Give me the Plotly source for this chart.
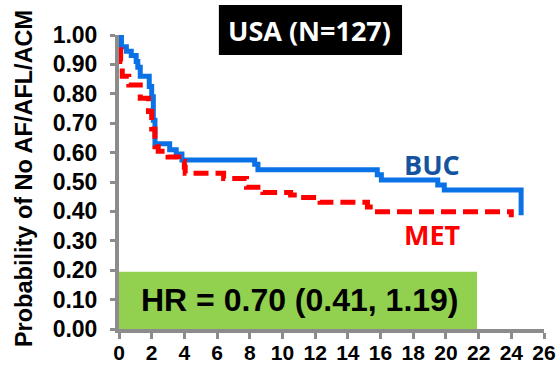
import plotly.graph_objects as go

# Kaplan-Meier step data (time in months, survival probability)
buc_time = [0, 0.15, 0.45, 0.75, 1.05, 1.15, 1.3, 1.85, 2.0, 2.1, 2.2, 3.1, 3.5, 3.85,
            8.3, 8.5, 15.8, 16.05, 19.5, 19.9, 24.6]
buc_surv = [1.00, 0.96, 0.945, 0.93, 0.91, 0.89, 0.86, 0.825, 0.79, 0.71, 0.63, 0.61, 0.595, 0.575,
            0.56, 0.542, 0.525, 0.507, 0.49, 0.473, 0.387]

met_time = [0, 0.1, 0.2, 0.6, 1.3, 1.8, 2.0, 2.2, 2.4, 3.0, 3.65, 4.0, 4.05, 6.4, 7.8,
            8.8, 10.5, 11.1, 12.3, 15.2, 15.65, 24.0]
met_surv = [0.95, 0.91, 0.86, 0.83, 0.785, 0.74, 0.68, 0.62, 0.605, 0.585, 0.57, 0.55, 0.53, 0.512, 0.482,
            0.464, 0.456, 0.447, 0.431, 0.415, 0.399, 0.38]

x_ticks = list(range(0, 27, 2))
y_ticks = [i / 10 for i in range(11)]

title_text = "USA (N=127)"
hr_text = "HR = 0.70 (0.41, 1.19)"
y_title = "Probability of No AF/AFL/ACM"

axis_gray = "#8c8c8c"
x_tick_font = dict(family="Liberation Sans", size=21, color="black", weight="bold")
y_tick_font = dict(family="Liberation Sans", size=23, color="black", weight="bold")

fig = go.Figure()
fig.add_trace(go.Scatter(x=buc_time, y=buc_surv, mode="lines", line_shape="hv",
                         line=dict(color="#0A72E6", width=5), showlegend=False, cliponaxis=False))
fig.add_trace(go.Scatter(x=met_time, y=met_surv, mode="lines", line_shape="hv",
                         line=dict(color="#FF0000", width=5, dash="15px,7px"), showlegend=False,
                         cliponaxis=False))

# HR box
fig.add_shape(type="rect", xref="x", yref="y", x0=0, x1=21.9, y0=0, y1=0.195,
              fillcolor="#92D050", line_width=0, layer="below")
fig.add_annotation(x=11.07, y=0.10, xref="x", yref="y", text=hr_text, showarrow=False,
                   xanchor="center", yanchor="middle",
                   font=dict(family="Liberation Sans", size=32, color="black", weight="bold"))

# Title box
fig.add_shape(type="rect", xref="paper", yref="paper", x0=0.235, x1=0.666, y0=0.932, y1=1.102,
              fillcolor="black", line_width=0, layer="below")
fig.add_annotation(x=0.449, y=1.017, xref="paper", yref="paper", text=title_text, showarrow=False,
                   xanchor="center", yanchor="middle",
                   font=dict(family="Open Sans", size=27, color="white", weight="bold"))

# Series labels
fig.add_annotation(x=19.17, y=0.561, xref="x", yref="y", text="BUC", showarrow=False,
                   xanchor="center", yanchor="middle",
                   font=dict(family="Open Sans", size=27, color="#14539E", weight="bold"))
fig.add_annotation(x=19.2, y=0.32, xref="x", yref="y", text="MET", showarrow=False,
                   xanchor="center", yanchor="middle",
                   font=dict(family="Open Sans", size=27, color="#FF0000", weight="bold"))

# Y axis title
fig.add_annotation(x=-0.2235, y=0.510, xref="paper", yref="paper", text=y_title, showarrow=False,
                   xanchor="center", yanchor="middle",
                   textangle=-90, font=dict(family="Liberation Sans", size=23.5, color="black",
                                            weight="bold"))

fig.update_xaxes(range=[0, 26], tickvals=x_ticks, ticktext=[str(v) for v in x_ticks],
                 showline=True, linecolor=axis_gray, linewidth=4, ticks="outside", ticklen=6,
                 tickwidth=3, tickcolor=axis_gray, showgrid=False, zeroline=False, tickfont=x_tick_font,
                 automargin=False, ticklabelstandoff=-4)
fig.update_yaxes(range=[0, 1], tickvals=y_ticks, ticktext=[f"{v:.2f}" for v in y_ticks],
                 showline=True, linecolor=axis_gray, linewidth=4, ticks="outside", ticklen=5,
                 tickwidth=3, tickcolor=axis_gray, showgrid=False, zeroline=False, tickfont=y_tick_font,
                 automargin=False, ticklabelstandoff=8)

fig.update_layout(width=560, height=366, margin=dict(l=119, r=16, t=35, b=37),
                  plot_bgcolor="white", paper_bgcolor="white", template="none")

fig.write_html("out.html", config={"displayModeBar": False},
               post_script="document.body.style.margin='0px';document.body.style.overflow='hidden';")
